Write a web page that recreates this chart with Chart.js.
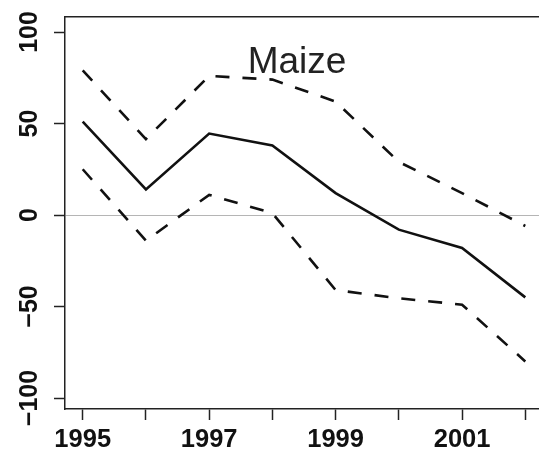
<!DOCTYPE html>
<html>
<head>
<meta charset="utf-8">
<script src="https://cdn.jsdelivr.net/npm/chart.js@4.4.1/dist/chart.umd.min.js"></script>
<style>
html, body { margin: 0; padding: 0; background: #fff; overflow: hidden; width: 539px; height: 452px; }
#wrap { position: relative; width: 543px; height: 452px; }
#titulo { position: absolute; left: 297px; top: 42px; transform: translateX(-50%);
  font: 37px 'Liberation Sans', Arial, sans-serif; line-height: 37px; color: #222; white-space: nowrap; }
</style>
</head>
<body>
<div id="wrap">
  <canvas id="grafico" width="543" height="452"></canvas>
  <div id="titulo">Maize</div>
</div>
<script>
// valores
const anos = [1995, 1996, 1997, 1998, 1999, 2000, 2001, 2002];
const estimativa = [51, 14, 44.5, 38, 12, -8, -18, -45];
const limiteSuperior = [79, 41.5, 76, 74, 62, 29, 12, -6];
const limiteInferior = [25, -14, 11, 1, -41, -45.5, -49, -80];

const ticksAno = [1995, 1996, 1997, 1998, 1999, 2000, 2001, 2002];
const rotulosAno = ['1995', '', '1997', '', '1999', '', '2001', ''];
const ticksValor = [-100, -50, 0, 50, 100];
const rotulosValor = ['\u2212100', '\u221250', '0', '50', '100'];

const pontos = (valores) => anos.map((ano, i) => ({ x: ano, y: valores[i] }));

const fonteX = { family: "'Liberation Sans', Arial, sans-serif", size: 25.5, weight: 'bold' };
const fonteY = { family: "'Liberation Sans', Arial, sans-serif", size: 25, weight: 'bold' };

const ctx = document.getElementById('grafico');

new Chart(ctx, {
  type: 'line',
  data: {
    datasets: [
      { label: 'estimativa', data: pontos(estimativa), borderColor: '#111', borderWidth: 2.6 },
      { label: 'superior', data: pontos(limiteSuperior), borderColor: '#111', borderWidth: 2.6, borderDash: [14, 13] },
      { label: 'inferior', data: pontos(limiteInferior), borderColor: '#111', borderWidth: 2.6, borderDash: [14, 13] }
    ]
  },
  options: {
    responsive: false,
    animation: false,
    layout: { padding: { top: 17, right: 0, bottom: 0, left: 0 } },
    elements: { point: { radius: 0 }, line: { tension: 0, fill: false } },
    plugins: { legend: { display: false }, tooltip: { enabled: false } },
    scales: {
      x: {
        type: 'linear',
        min: 1994.72,
        max: 2002.28,
        afterBuildTicks: (scale) => { scale.ticks = ticksAno.map((v) => ({ value: v })); },
        afterFit: (scale) => { scale.height = 43; },
        ticks: {
          color: '#111',
          font: fonteX,
          padding: 5,
          maxRotation: 0,
          autoSkip: false,
          callback: (v) => rotulosAno[ticksAno.indexOf(v)]
        },
        grid: { color: 'rgba(0,0,0,0)', tickColor: '#222', tickLength: 11, tickWidth: 1.5 },
        border: { display: true, color: '#222', width: 1.5 }
      },
      topo: {
        type: 'linear',
        position: 'top',
        afterFit: (scale) => { scale.height = 0; },
        ticks: { display: false },
        grid: { display: false },
        border: { display: true, color: '#222', width: 1.5 }
      },
      y: {
        min: -106,
        max: 108.2,
        afterBuildTicks: (scale) => { scale.ticks = ticksValor.map((v) => ({ value: v })); },
        afterFit: (scale) => { scale.width = 65; },
        ticks: {
          color: '#111',
          font: fonteY,
          minRotation: 90,
          maxRotation: 90,
          crossAlign: 'center',
          padding: -4,
          autoSkip: false,
          callback: (v) => rotulosValor[ticksValor.indexOf(v)]
        },
        grid: {
          color: (c) => (c.tick && c.tick.value === 0 ? '#b5b5b5' : 'rgba(0,0,0,0)'),
          lineWidth: 1,
          tickColor: '#222',
          tickLength: 11,
          tickWidth: 1.5
        },
        border: { display: true, color: '#222', width: 1.5 }
      }
    }
  }
});
</script>
</body>
</html>
